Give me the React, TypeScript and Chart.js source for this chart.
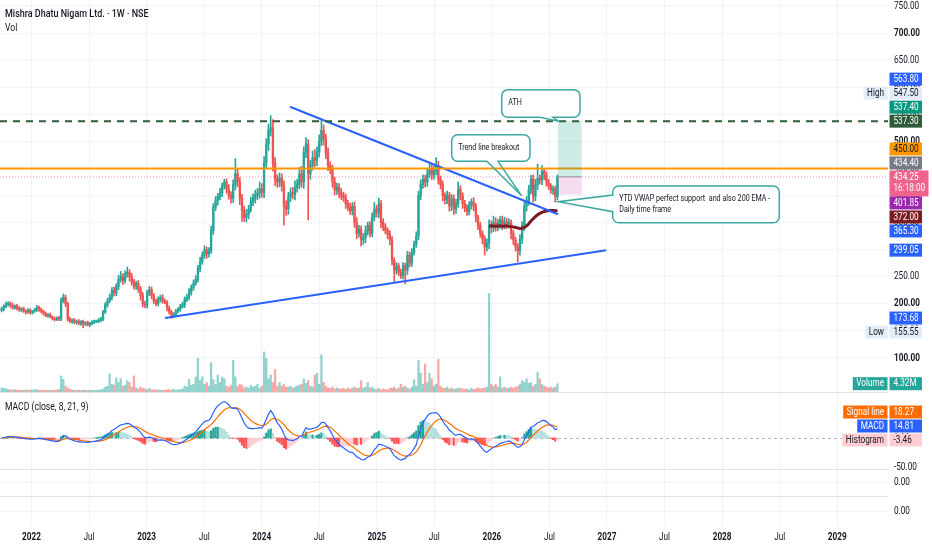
import { useEffect, useRef } from "react";
import { Chart, registerables } from "chart.js";

Chart.register(...registerables);

// ---------------- time axis (year fractions) ----------------
const FIRST_WEEK = 2021.74;
const WEEK_YEARS = 7 / 365.25;
const X_MIN = 2021.7263;
const X_MAX = 2029.4414;
const xTickValues = [2022, 2022.5, 2023, 2023.5, 2024, 2024.5, 2025, 2025.5, 2026, 2026.5, 2027, 2027.5, 2028, 2028.5, 2029];
const xTickLabels = ["2022", "Jul", "2023", "Jul", "2024", "Jul", "2025", "Jul", "2026", "Jul", "2027", "Jul", "2028", "Jul", "2029"];

// ---------------- price pane ----------------
const PRICE_MIN = -208.5;
const PRICE_MAX = 761;
const priceTicks = [100, 150, 200, 250, 300, 350, 400, 450, 500, 550, 600, 650, 700, 750];
const FIRST_OPEN = 188;

const closes = [
  190, 195, 199, 201, 197, 193, 196, 192, 189, 191, 187, 185, 188, 184,
  186, 189, 193, 190, 186, 182, 178, 180, 176, 173, 171, 174, 172, 206,
  212, 200, 172, 168, 170, 166, 168, 164, 167, 163, 165, 161, 164, 166,
  167, 168, 170, 171, 185, 198, 205, 212, 225, 220, 232, 245, 250, 243,
  255, 258, 250, 240, 232, 238, 228, 215, 200, 198, 220, 226, 215, 205,
  200, 208, 212, 205, 203, 192, 185, 178, 180, 186, 190, 195, 198, 208,
  212, 222, 230, 238, 245, 265, 278, 290, 300, 292, 298, 335, 378, 390,
  398, 405, 418, 425, 412, 400, 395, 420, 440, 425, 395, 372, 360, 365,
  375, 388, 395, 400, 405, 412, 405, 460, 495, 520, 525, 460, 430, 425,
  432, 418, 380, 375, 398, 405, 402, 415, 420, 440, 425, 480, 495, 440,
  455, 470, 465, 480, 500, 520, 505, 478, 455, 448, 425, 410, 415, 405,
  400, 396, 385, 378, 372, 380, 350, 330, 338, 318, 322, 335, 345, 330,
  360, 375, 368, 385, 350, 342, 335, 328, 318, 280, 262, 270, 258, 252,
  270, 262, 290, 275, 295, 310, 325, 400, 420, 430, 425, 440, 450, 438,
  445, 455, 430, 420, 400, 392, 400, 380, 395, 375, 385, 412, 400, 385,
  378, 370, 382, 388, 380, 360, 345, 330, 320, 305, 312, 345, 340, 350,
  342, 348, 355, 345, 352, 348, 350, 330, 318, 305, 298, 320, 345, 380,
  390, 410, 430, 398, 420, 432, 428, 445, 438, 425, 418, 410, 412, 398, 434.25,
];

const wickUp = [
  4, 3, 4, 3, 3, 4, 2, 3, 3, 2, 3, 2, 3, 3,
  2, 3, 4, 3, 2, 2, 3, 2, 3, 2, 3, 2, 3, 5,
  6, 4, 3, 3, 2, 3, 2, 3, 2, 3, 2, 3, 2, 3,
  3, 2, 3, 4, 3, 4, 5, 6, 5, 6, 5, 8, 10, 6,
  6, 10, 5, 6, 5, 4, 5, 4, 6, 5, 5, 6, 5, 4,
  4, 5, 4, 5, 4, 3, 4, 3, 4, 4, 3, 4, 5, 5,
  5, 6, 5, 6, 7, 6, 8, 6, 7, 5, 6, 8, 7, 8,
  6, 8, 5, 5, 6, 8, 7, 9, 28, 10, 8, 7, 8, 9,
  7, 9, 8, 10, 8, 13, 10, 12, 10, 12, 22.5, 15, 10, 8,
  10, 8, 9, 10, 8, 9, 10, 12, 10, 12, 14, 10, 12, 8,
  10, 12, 15, 10, 12, 19, 10, 8, 10, 7, 8, 9, 8, 7,
  8, 6, 7, 6, 8, 7, 8, 9, 7, 6, 8, 9, 6, 7,
  8, 12, 7, 10, 6, 7, 6, 5, 7, 6, 5, 6, 5, 6,
  6, 5, 7, 6, 7, 6, 8, 8, 9, 8, 7, 10, 9, 8,
  10, 15, 8, 6, 7, 5, 8, 6, 7, 6, 8, 13, 6, 5,
  6, 5, 7, 6, 8, 5, 4, 6, 5, 6, 8, 10, 8, 12,
  9, 8, 6, 7, 8, 6, 7, 5, 6, 5, 6, 8, 7, 8,
  8, 9, 7, 8, 10, 26, 6, 10, 5, 6, 5, 4, 6, 5, 4,
];

const wickDn = [
  3, 3, 2, 3, 4, 3, 3, 4, 3, 4, 3, 4, 3, 3,
  3, 2, 3, 4, 3, 3, 2, 3, 2, 3, 3, 2, 3, 3,
  4, 5, 4, 3, 4, 3, 4, 3, 4, 7.45, 3, 2, 3, 3,
  3, 2, 3, 3, 2, 3, 4, 3, 5, 6, 5, 6, 5, 7,
  5, 6, 8, 6, 5, 6, 7, 8, 6, 5, 6, 5, 6, 5,
  4, 4, 5, 4, 3, 5, 4, 5, 3, 4, 3, 4, 3, 5,
  4, 5, 6, 5, 4, 5, 6, 5, 6, 8, 6, 5, 7, 6,
  8, 6, 7, 6, 8, 7, 9, 8, 10, 9, 12, 20, 8, 9,
  8, 6, 7, 9, 8, 10, 8, 9, 10, 12, 10, 15, 12, 10,
  9, 10, 35, 12, 10, 9, 8, 10, 9, 8, 10, 12, 10, 85,
  10, 8, 12, 10, 9, 8, 12, 10, 9, 8, 10, 9, 8, 9,
  8, 7, 9, 6, 7, 8, 9, 10, 7, 11, 8, 9, 8, 7,
  6, 7, 8, 9, 10, 7, 6, 8, 9, 8, 22, 7, 6, 5,
  6, 25, 8, 7, 6, 5, 6, 7, 8, 7, 9, 8, 7, 9,
  8, 7, 9, 8, 10, 8, 7, 9, 8, 10, 8, 7, 8, 9,
  8, 7, 6, 7, 8, 9, 8, 7, 9, 15, 8, 10, 9, 7,
  8, 7, 9, 8, 7, 9, 8, 10, 9, 8, 21, 8, 9, 10,
  9, 8, 7, 10, 8, 9, 7, 8, 9, 8, 7, 6, 8, 10, 6,
];

// volume in millions
const volumes = [
  2.0, 1.8, 1.5, 1.2, 1.0, 0.9, 1.1, 0.8, 0.9, 0.7, 0.8, 1.0, 0.7, 0.8,
  0.9, 1.2, 1.0, 0.8, 0.7, 0.9, 0.8, 0.7, 0.6, 0.8, 0.7, 0.9, 1.2, 8.5,
  6.7, 3.0, 2.0, 1.2, 1.0, 0.8, 0.7, 0.9, 0.6, 1.0, 0.7, 0.6, 0.8, 0.7,
  0.6, 0.8, 0.9, 1.0, 1.5, 2.5, 3.0, 9.6, 4.0, 3.5, 7.5, 5.0, 7.0, 3.0,
  3.5, 6.0, 5.0, 2.5, 8.5, 2.0, 1.5, 2.5, 2.0, 1.5, 1.2, 1.8, 1.0, 1.2,
  0.8, 1.0, 0.9, 0.7, 0.8, 1.0, 1.2, 0.9, 1.5, 0.8, 1.0, 1.2, 1.5, 3.0,
  2.5, 6.7, 3.5, 4.0, 8.0, 18.0, 6.0, 8.0, 4.0, 5.0, 3.0, 15.7, 6.5, 4.0,
  9.0, 5.0, 8.0, 7.0, 3.0, 2.5, 3.5, 17.0, 8.0, 3.0, 4.0, 3.5, 2.0, 2.5,
  2.0, 3.5, 2.5, 3.0, 4.0, 2.0, 3.0, 21.5, 18.0, 7.0, 9.0, 5.0, 12.0, 3.0,
  5.0, 3.0, 4.0, 2.5, 2.5, 3.0, 2.0, 2.5, 3.0, 3.5, 4.0, 7.0, 4.5, 6.0,
  3.0, 2.5, 9.0, 10.0, 4.0, 20.0, 5.0, 3.0, 2.0, 1.8, 2.5, 1.5, 2.0, 1.5,
  1.5, 1.8, 1.2, 2.0, 1.5, 2.0, 2.5, 1.8, 2.0, 6.0, 2.0, 2.5, 5.0, 2.0,
  2.5, 1.5, 1.2, 1.8, 1.0, 1.5, 1.2, 1.0, 1.8, 2.0, 2.5, 1.5, 2.0, 4.0,
  2.5, 3.0, 2.0, 1.5, 2.5, 6.5, 3.0, 17.0, 10.0, 4.0, 15.0, 5.0, 10.0, 7.0,
  3.0, 4.0, 17.5, 3.0, 2.0, 1.8, 2.5, 1.5, 2.0, 1.2, 1.5, 2.0, 1.8, 1.5,
  1.2, 1.5, 1.0, 1.8, 1.2, 1.5, 2.0, 1.5, 1.8, 2.0, 2.5, 53.0, 4.0, 3.0,
  4.0, 2.5, 8.0, 2.0, 2.5, 1.8, 2.0, 2.5, 2.0, 2.5, 3.0, 4.0, 6.0, 5.0,
  7.0, 4.5, 5.0, 3.0, 4.0, 10.5, 7.0, 4.0, 3.0, 2.5, 2.0, 2.5, 2.0, 2.5, 4.32,
];

// daily 200 EMA (drawn from candle index EMA_START)
const EMA_START = 221;
const emaValues = [
  344, 344, 343.5, 343, 343.5, 344, 343, 343.5, 344, 343,
  342.5, 342, 341, 340, 339, 339.5, 341, 344, 348, 353,
  357, 361, 364.5, 367, 369, 370.5, 371.5, 372, 372.5, 372.5,
  372, 372,
];

// drawings
const upperTrend = [{ x: 2024.2459, y: 563.8 }, { x: 2026.5743, y: 365.3 }];
const lowerTrend = [{ x: 2023.1599, y: 173.68 }, { x: 2026.9913, y: 299.05 }];
const ATH_LEVEL = 537.3;
const ORANGE_LEVEL = 450;
const LAST_PRICE = 434.25;
const LAST_TIME = "16:18:00";
const longPosition = { x0: 2026.5743, x1: 2026.7802, target: 537.4, entry: 434.4, stop: 401.85 };

const callouts = [
  { lines: ["ATH"], x0: 2026.0851, x1: 2026.7654, top: 595.4, bottom: 544.4, side: "bottom", base: [2026.4179, 2026.5308], tip: { x: 2026.5769, y: 537.3 } },
  { lines: ["Trend line breakout"], x0: 2025.6507, x1: 2026.331, top: 512.2, bottom: 463.1, side: "bottom", base: [2025.9574, 2026.053], tip: { x: 2026.2589, y: 399.4 } },
  { lines: ["YTD VWAP perfect support  and also 200 EMA -", "Daily time frame"], x0: 2027.0495, x1: 2028.497, top: 417.5, bottom: 349.8, side: "left", base: [400.9, 370.1], tip: { x: 2026.5769, y: 388.5 } },
];

// price-scale labels
const priceLabels = [
  { value: 563.8, bg: "#2962ff", fg: "#ffffff" },
  { value: 547.5, bg: "#e3ecf7", fg: "#131722", tag: "High" },
  { value: 537.4, bg: "#089981", fg: "#ffffff" },
  { value: 537.3, bg: "#2d5c38", fg: "#ffffff", fixed: true },
  { value: 450.0, bg: "#ff9800", fg: "#131722" },
  { value: 434.4, bg: "#787b86", fg: "#ffffff" },
  { value: 434.25, bg: "#f0628c", fg: "#ffffff", sub: LAST_TIME, fixed: true },
  { value: 401.85, bg: "#9c27b0", fg: "#ffffff" },
  { value: 372.0, bg: "#7e1c22", fg: "#ffffff" },
  { value: 365.3, bg: "#2962ff", fg: "#ffffff" },
  { value: 299.05, bg: "#2962ff", fg: "#ffffff", fixed: true },
  { value: 173.68, bg: "#2962ff", fg: "#ffffff", fixed: true },
  { value: 155.55, bg: "#e3ecf7", fg: "#131722", tag: "Low" },
];

// MACD pane
const MACD_FAST = 8;
const MACD_SLOW = 21;
const MACD_SIGNAL = 9;
const macdTicks = [0, -50];
const macdLabels = [
  { value: 18.27, bg: "#ff6d00", fg: "#ffffff", tag: "Signal line" },
  { value: 14.81, bg: "#2962ff", fg: "#ffffff", tag: "MACD" },
  { value: -3.46, bg: "#ffcdd2", fg: "#131722", tag: "Histogram", fixed: true },
];

// ---------------- layout (pixels) ----------------
const PANE_LINES = [392, 469, 496];
const RIGHT_AXIS_W = 44;
const BOTTOM_AXIS_H = 25;

// ---------------- derived series ----------------
const xs = closes.map((_, i) => FIRST_WEEK + i * WEEK_YEARS);
const opens = closes.map((_, i) => (i === 0 ? FIRST_OPEN : closes[i - 1]));
const highs = closes.map((c, i) => Math.max(opens[i], c) + wickUp[i]);
const lows = closes.map((c, i) => Math.min(opens[i], c) - wickDn[i]);
const isUp = closes.map((c, i) => c >= opens[i]);

function ema(src: number[], n: number) {
  const k = 2 / (n + 1);
  const out: number[] = [];
  src.forEach((v, i) => out.push(i === 0 ? v : v * k + out[i - 1] * (1 - k)));
  return out;
}
const fastE = ema(closes, MACD_FAST);
const slowE = ema(closes, MACD_SLOW);
const macdLine = closes.map((_, i) => fastE[i] - slowE[i]);
const signalLine = ema(macdLine, MACD_SIGNAL);
const histogram = macdLine.map((m, i) => m - signalLine[i]);
const histColors = histogram.map((h, i) => {
  const prev = i > 0 ? histogram[i - 1] : h;
  if (h >= 0) return prev < h ? "#26a69a" : "#b2dfdb";
  return prev < h ? "#ffcdd2" : "#ff5252";
});

const UP = "#26a69a";
const DOWN = "#ef5350";
const GRID = "#f0f3fa";
const TEXT = "#131722";
const FONT = "Roboto, 'Liberation Sans', 'DejaVu Sans', sans-serif";
const SQ = 0.78;

function txt(ctx: CanvasRenderingContext2D, s: string, x: number, y: number, size: number, color: string, weight = "normal", align: CanvasTextAlign = "left") {
  ctx.save();
  ctx.font = `${weight} ${size}px ${FONT}`;
  ctx.fillStyle = color;
  ctx.textAlign = align;
  ctx.textBaseline = "middle";
  ctx.translate(x, y);
  ctx.scale(SQ, 1);
  ctx.fillText(s, 0, 0);
  ctx.restore();
}
function txtW(ctx: CanvasRenderingContext2D, s: string, size: number, weight = "normal") {
  ctx.save();
  ctx.font = `${weight} ${size}px ${FONT}`;
  const w = ctx.measureText(s).width * SQ;
  ctx.restore();
  return w;
}

type Lab = { value: number; bg: string; fg: string; tag?: string; sub?: string; fixed?: boolean };

function layoutLabels(labels: Lab[], toPx: (v: number) => number) {
  const items = labels.map((l) => ({ ...l, y: toPx(l.value), up: 7, down: l.sub ? 19 : 7, pos: 0 }));
  const placed = items.filter((l) => l.fixed);
  placed.forEach((p) => (p.pos = p.y));
  const rest = items.filter((l) => !l.fixed);
  const dist = (l: any) => Math.min(...placed.map((p) => Math.abs(p.pos - l.y)));
  rest.sort((a, b) => dist(a) - dist(b));
  for (const r of rest) {
    r.pos = r.y;
    let dir = 0;
    for (let guard = 0; guard < 30; guard++) {
      const hit = placed.find((p) => r.pos - r.up < p.pos + p.down - 0.01 && r.pos + r.down > p.pos - p.up + 0.01);
      if (!hit) break;
      if (dir === 0) dir = r.value > hit.value ? -1 : 1;
      r.pos = dir < 0 ? hit.pos - hit.up - r.down : hit.pos + hit.down + r.up;
    }
    placed.push(r);
  }
  return items;
}

function drawLabel(ctx: CanvasRenderingContext2D, l: any, left: number) {
  const h = l.sub ? 26 : 13;
  const w = l.sub ? 39 : 32.5;
  const top = l.pos - 6.5;
  ctx.fillStyle = l.bg;
  ctx.fillRect(left, top, w, h);
  txt(ctx, l.text ?? l.value.toFixed(2), left + 4, l.pos, 10.5, l.fg);
  if (l.sub) txt(ctx, l.sub, left + 4, l.pos + 11.5, 10.5, l.fg);
  if (l.tag) {
    const tw = txtW(ctx, l.tag, 10.5) + 7;
    ctx.fillStyle = l.bg;
    ctx.fillRect(left - 2 - tw, top, tw, 13);
    txt(ctx, l.tag, left - 2 - tw / 2, l.pos, 10.5, l.fg, "normal", "center");
  }
}

function calloutPath(ctx: CanvasRenderingContext2D, x0: number, y0: number, x1: number, y1: number, r: number, side: string, b0: number, b1: number, tx: number, ty: number, notch: boolean) {
  ctx.beginPath();
  ctx.moveTo(x0 + r, y0);
  ctx.lineTo(x1 - r, y0);
  ctx.arcTo(x1, y0, x1, y0 + r, r);
  ctx.lineTo(x1, y1 - r);
  ctx.arcTo(x1, y1, x1 - r, y1, r);
  if (notch && side === "bottom") {
    ctx.lineTo(Math.max(b0, b1), y1);
    ctx.lineTo(tx, ty);
    ctx.lineTo(Math.min(b0, b1), y1);
  }
  ctx.lineTo(x0 + r, y1);
  ctx.arcTo(x0, y1, x0, y1 - r, r);
  if (notch && side === "left") {
    ctx.lineTo(x0, Math.max(b0, b1));
    ctx.lineTo(tx, ty);
    ctx.lineTo(x0, Math.min(b0, b1));
  }
  ctx.lineTo(x0, y0 + r);
  ctx.arcTo(x0, y0, x0 + r, y0, r);
  ctx.closePath();
}

const overlayPlugin = {
  id: "overlay",
  beforeDatasetsDraw(chart: any) {
    const { ctx, chartArea: ca, scales } = chart;
    ctx.save();
    ctx.strokeStyle = "#e0e3eb";
    ctx.lineWidth = 1;
    for (const y of PANE_LINES) {
      ctx.beginPath();
      ctx.moveTo(0, y + 0.5);
      ctx.lineTo(ca.right, y + 0.5);
      ctx.stroke();
    }
    const z = scales.yMacd.getPixelForValue(0);
    ctx.setLineDash([3, 3]);
    ctx.strokeStyle = "rgba(120,123,134,0.55)";
    ctx.beginPath();
    ctx.moveTo(0, Math.round(z) + 0.5);
    ctx.lineTo(ca.right, Math.round(z) + 0.5);
    ctx.stroke();
    ctx.restore();
  },
  afterDatasetsDraw(chart: any) {
    const { ctx, scales } = chart;
    const X = (v: number) => scales.x.getPixelForValue(v);
    const Y = (v: number) => scales.y.getPixelForValue(v);
    // long position tool
    const lx0 = X(longPosition.x0), lx1 = X(longPosition.x1);
    ctx.save();
    ctx.fillStyle = "rgba(8,153,129,0.2)";
    ctx.fillRect(lx0, Y(longPosition.target), lx1 - lx0, Y(longPosition.entry) - Y(longPosition.target));
    ctx.fillStyle = "rgba(205,90,185,0.22)";
    ctx.fillRect(lx0, Y(longPosition.entry), lx1 - lx0, Y(longPosition.stop) - Y(longPosition.entry));
    ctx.strokeStyle = "#9598a1";
    ctx.lineWidth = 1;
    ctx.beginPath();
    ctx.moveTo(lx0, Y(longPosition.entry));
    ctx.lineTo(lx1, Y(longPosition.entry));
    ctx.stroke();
    ctx.restore();
    // callouts
    for (const c of callouts) {
      const x0 = X(c.x0), x1 = X(c.x1), y0 = Y(c.top), y1 = Y(c.bottom);
      const tx = X(c.tip.x), ty = Y(c.tip.y);
      const b0 = c.side === "bottom" ? X(c.base[0]) : Y(c.base[0]);
      const b1 = c.side === "bottom" ? X(c.base[1]) : Y(c.base[1]);
      ctx.save();
      calloutPath(ctx, x0, y0, x1, y1, 6, c.side, b0, b1, tx, ty, false);
      ctx.fillStyle = "#ffffff";
      ctx.fill();
      calloutPath(ctx, x0, y0, x1, y1, 6, c.side, b0, b1, tx, ty, true);
      ctx.strokeStyle = "#3aa7a0";
      ctx.lineWidth = 1.5;
      ctx.stroke();
      ctx.restore();
      const lh = 11;
      const cy = (y0 + y1) / 2 - 0.5 - ((c.lines.length - 1) * lh) / 2;
      c.lines.forEach((s, k) => txt(ctx, s, x0 + 6.5, cy + k * lh, 9.2, TEXT));
    }
  },
  afterDraw(chart: any) {
    const { ctx, chartArea: ca, scales } = chart;
    // x tick labels
    scales.x.ticks.forEach((t: any, i: number) => {
      const lab = xTickLabels[xTickValues.indexOf(t.value)] ?? xTickLabels[i];
      const bold = Number.isInteger(t.value);
      txt(ctx, lab, scales.x.getPixelForValue(t.value), ca.bottom + 12, 10.5, TEXT, bold ? "bold" : "normal", "center");
    });
    // price ticks
    scales.y.ticks.forEach((t: any) => {
      txt(ctx, t.value.toFixed(2), ca.right + 6, scales.y.getPixelForValue(t.value), 10.5, TEXT, t.value % 100 === 0 ? "bold" : "normal");
    });
    // MACD ticks (clipped to pane)
    ctx.save();
    ctx.beginPath();
    ctx.rect(ca.right, PANE_LINES[0] + 1, RIGHT_AXIS_W, PANE_LINES[1] - PANE_LINES[0]);
    ctx.clip();
    macdTicks.forEach((v) => txt(ctx, v.toFixed(2), ca.right + 6, scales.yMacd.getPixelForValue(v), 10.5, TEXT));
    ctx.restore();
    // empty panes
    txt(ctx, (0).toFixed(2), ca.right + 6, scales.y3.getPixelForValue(0), 10.5, TEXT);
    txt(ctx, (0).toFixed(2), ca.right + 6, scales.y4.getPixelForValue(0), 10.5, TEXT);

    const left = ca.right + 1.5;
    // price labels
    layoutLabels(priceLabels, (v) => scales.y.getPixelForValue(v)).forEach((l) => drawLabel(ctx, l, left));
    // volume label
    const lastVol = volumes[volumes.length - 1];
    drawLabel(ctx, { value: lastVol, text: `${lastVol.toFixed(2)}M`, bg: "#26a69a", fg: "#ffffff", tag: "Volume", pos: scales.yVol.getPixelForValue(lastVol) }, left);
    // MACD labels
    layoutLabels(macdLabels, (v) => scales.yMacd.getPixelForValue(v)).forEach((l) => drawLabel(ctx, l, left));

    // legends
    txt(ctx, "Mishra Dhatu Nigam Ltd. · 1W · NSE", 5, 14, 11.5, TEXT, "500");
    txt(ctx, "Vol", 5, 28, 11, TEXT);
    txt(ctx, `MACD (close, ${MACD_FAST}, ${MACD_SLOW}, ${MACD_SIGNAL})`, 5, 407, 11, TEXT);
  },
};

export default function App() {
  const ref = useRef<HTMLCanvasElement>(null);
  useEffect(() => {
    document.body.style.margin = "0";
    const candleColors = isUp.map((u) => (u ? UP : DOWN));
    const volColors = isUp.map((u) => (u ? "rgba(38,166,154,0.5)" : "rgba(239,83,80,0.5)"));
    const hline = (y: number) => [{ x: X_MIN, y }, { x: X_MAX, y }];
    const chart = new Chart(ref.current as HTMLCanvasElement, {
      type: "bar",
      data: {
        datasets: [
          { type: "bar", label: "Volume", yAxisID: "yVol", data: xs.map((x, i) => ({ x, y: volumes[i] })), backgroundColor: volColors, barThickness: 1.6, grouped: false, order: 20 } as any,
          { type: "bar", label: "Histogram", yAxisID: "yMacd", data: xs.map((x, i) => ({ x, y: histogram[i] })), backgroundColor: histColors, barThickness: 1.6, grouped: false, order: 19 } as any,
          { type: "line", label: "Signal", yAxisID: "yMacd", data: xs.map((x, i) => ({ x, y: signalLine[i] })), borderColor: "#ff6d00", borderWidth: 1.2, pointRadius: 0, order: 18 } as any,
          { type: "line", label: "MACD", yAxisID: "yMacd", data: xs.map((x, i) => ({ x, y: macdLine[i] })), borderColor: "#2962ff", borderWidth: 1.2, pointRadius: 0, order: 17 } as any,
          { type: "bar", label: "Wicks", yAxisID: "y", data: xs.map((x, i) => ({ x, y: [lows[i], highs[i]] })), backgroundColor: candleColors, barThickness: 1, grouped: false, order: 10 } as any,
          { type: "bar", label: "Bodies", yAxisID: "y", data: xs.map((x, i) => ({ x, y: [opens[i], closes[i]] })), backgroundColor: candleColors, barThickness: 1.7, minBarLength: 1, grouped: false, order: 9 } as any,
          { type: "line", label: "Last", yAxisID: "y", data: hline(LAST_PRICE), borderColor: "rgba(242,54,100,0.55)", borderWidth: 1, borderDash: [1, 2], pointRadius: 0, order: 8 } as any,
          { type: "line", label: "EMA", yAxisID: "y", data: emaValues.map((v, k) => ({ x: xs[EMA_START + k], y: v })), borderColor: "#7a1c24", borderWidth: 3, pointRadius: 0, tension: 0.3, order: 7 } as any,
          { type: "line", label: "Upper", yAxisID: "y", data: upperTrend, borderColor: "#2962ff", borderWidth: 2, pointRadius: 0, order: 6 } as any,
          { type: "line", label: "Lower", yAxisID: "y", data: lowerTrend, borderColor: "#2962ff", borderWidth: 2, pointRadius: 0, order: 5 } as any,
          { type: "line", label: "Orange", yAxisID: "y", data: hline(ORANGE_LEVEL), borderColor: "#ff9800", borderWidth: 2, pointRadius: 0, order: 4 } as any,
          { type: "line", label: "ATH", yAxisID: "y", data: hline(ATH_LEVEL), borderColor: "#2d5c38", borderWidth: 2, borderDash: [7, 6], pointRadius: 0, order: 3 } as any,
        ],
      },
      options: {
        animation: false,
        responsive: true,
        maintainAspectRatio: false,
        events: [],
        layout: { padding: 0 },
        plugins: { legend: { display: false }, tooltip: { enabled: false } },
        scales: {
          x: {
            type: "linear", min: X_MIN, max: X_MAX, offset: false,
            ticks: { display: false },
            grid: { color: GRID, drawTicks: false, offset: false },
            border: { display: false },
            afterBuildTicks: (s: any) => { s.ticks = xTickValues.map((v) => ({ value: v })); },
            afterFit: (s: any) => { s.height = BOTTOM_AXIS_H; },
          },
          y: {
            type: "linear", position: "right", min: PRICE_MIN, max: PRICE_MAX,
            ticks: { display: false },
            grid: { color: GRID, drawTicks: false },
            border: { display: false },
            afterBuildTicks: (s: any) => { s.ticks = priceTicks.map((v) => ({ value: v })); },
            afterFit: (s: any) => { s.width = RIGHT_AXIS_W; },
          },
          yVol: { type: "linear", display: false, min: -72.05, max: 211.7 },
          yMacd: { type: "linear", display: false, min: -150, max: 755.2 },
          y3: {
            type: "linear", position: "right", min: -43, max: 482,
            ticks: { display: false }, grid: { color: GRID, drawTicks: false }, border: { display: false },
            afterBuildTicks: (s: any) => { s.ticks = [{ value: 0 }]; },
            afterFit: (s: any) => { s.width = 0; },
          },
          y4: {
            type: "linear", position: "right", min: -14, max: 511,
            ticks: { display: false }, grid: { color: GRID, drawTicks: false }, border: { display: false },
            afterBuildTicks: (s: any) => { s.ticks = [{ value: 0 }]; },
            afterFit: (s: any) => { s.width = 0; },
          },
        },
      } as any,
      plugins: [overlayPlugin as any],
    });
    return () => chart.destroy();
  }, []);
  return (
    <div style={{ width: 932, height: 550, position: "relative", background: "#ffffff" }}>
      <canvas ref={ref} />
    </div>
  );
}
